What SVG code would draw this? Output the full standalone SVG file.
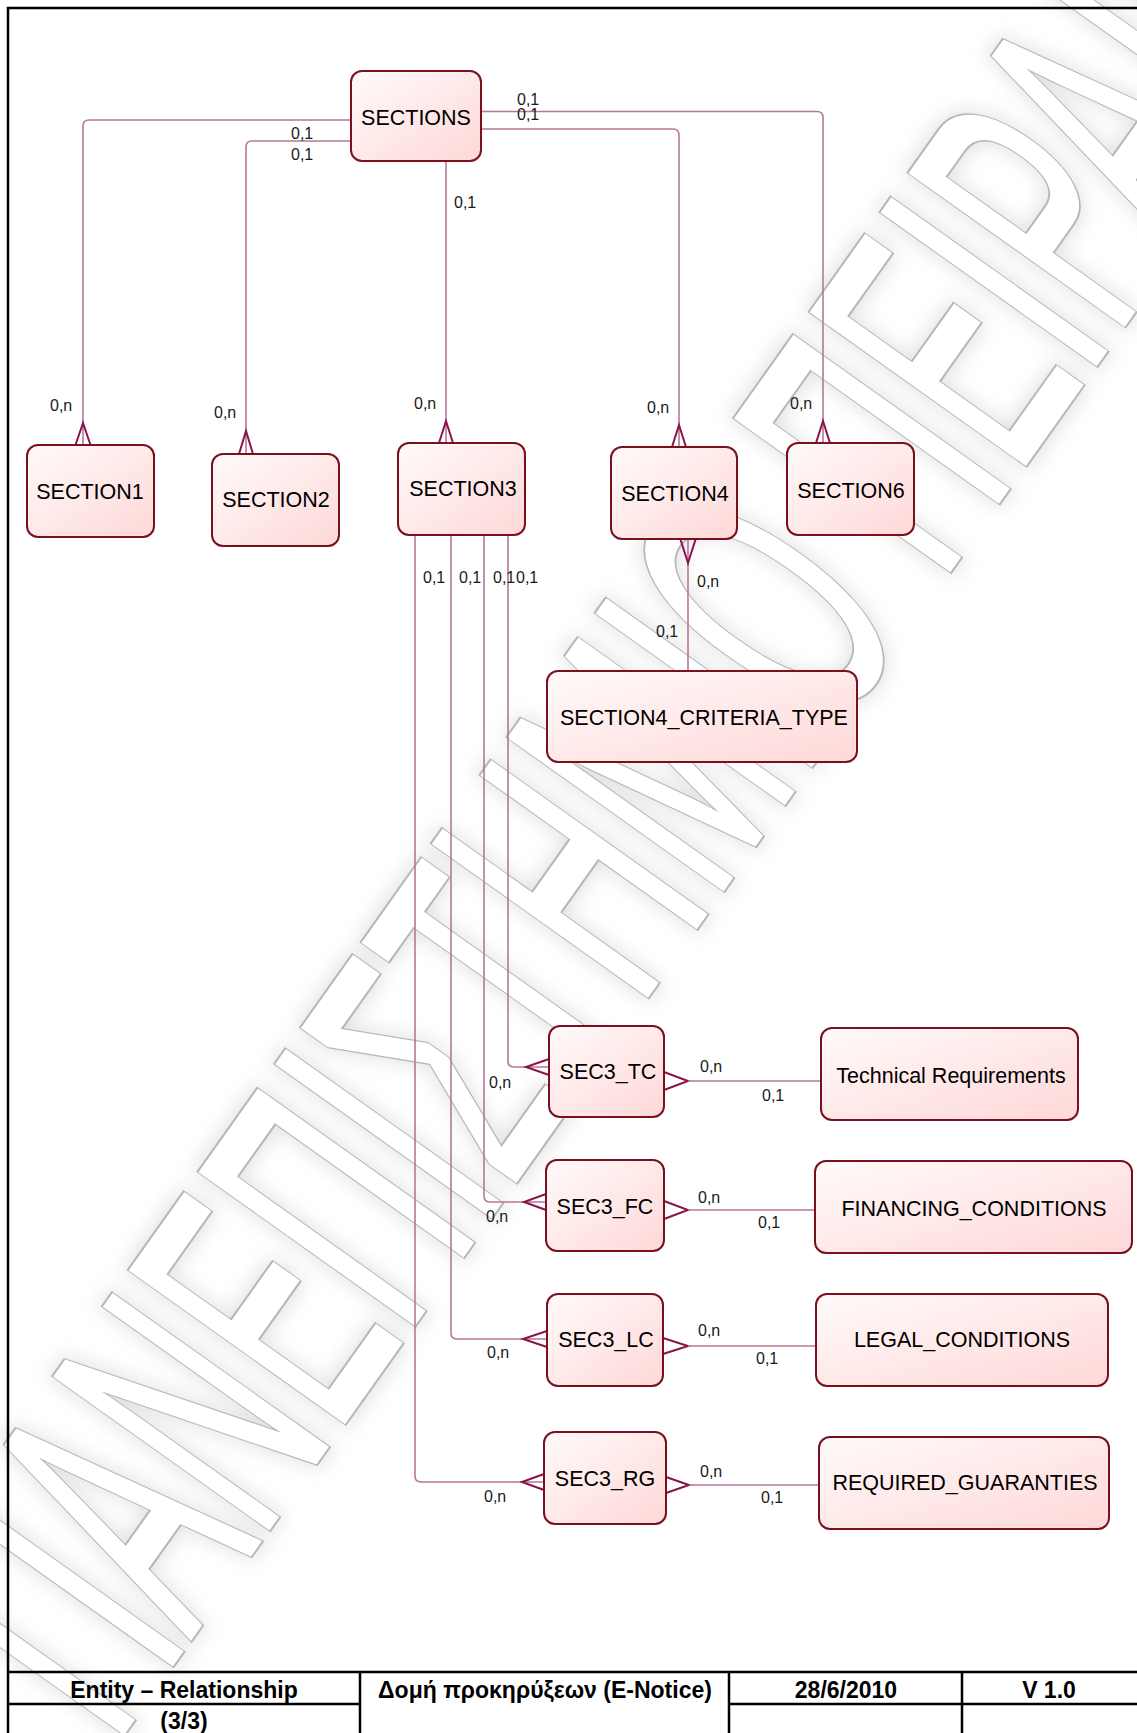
<svg xmlns="http://www.w3.org/2000/svg" width="1137" height="1733" viewBox="0 0 1137 1733">
<style>
.node rect{fill:url(#g);stroke:#7a0f1e;stroke-width:2}
.node text{font-family:"Liberation Sans",Arial,sans-serif;font-size:21.5px;fill:#000;text-anchor:middle}
.ln{fill:none;stroke:#b8769c;stroke-width:1.6}
.cf{fill:none;stroke:#8a1448;stroke-width:2}
.lb{font-family:"Liberation Sans",Arial,sans-serif;font-size:16px;fill:#1a1a1a}
.ft{font-family:"Liberation Sans",Arial,sans-serif;font-size:23px;font-weight:bold;fill:#000;text-anchor:middle}
.fr{stroke:#000;stroke-width:2.5;fill:none}
.wm{font-family:"Liberation Sans",Arial,sans-serif;font-size:380px;text-anchor:middle}
</style>
<defs>
<linearGradient id="g" x1="0" y1="0" x2="1" y2="1">
<stop offset="0" stop-color="#fffafa"/>
<stop offset="1" stop-color="#ffd8d8"/>
</linearGradient>
<filter id="blur" x="-10%" y="-10%" width="120%" height="120%"><feGaussianBlur stdDeviation="10"/></filter>
</defs>
<rect width="1137" height="1733" fill="#fff"/>
<g id="watermark" transform="translate(655,748) rotate(-54.6)">
<text class="wm" x="0" y="137" textLength="2252" lengthAdjust="spacingAndGlyphs" fill="#e2e2e2" stroke="#e2e2e2" stroke-width="14" filter="url(#blur)">ΠΑΝΕΠΙΣΤΗΜΙΟ ΠΕΙΡΑΙΩΣ</text>
<text class="wm" x="0" y="137" textLength="2252" lengthAdjust="spacingAndGlyphs" fill="#fff" stroke="#b6b6b6" stroke-width="8">ΠΑΝΕΠΙΣΤΗΜΙΟ ΠΕΙΡΑΙΩΣ</text>
<text class="wm" x="0" y="137" textLength="2252" lengthAdjust="spacingAndGlyphs" fill="#fff" stroke="#fff" stroke-width="4">ΠΑΝΕΠΙΣΤΗΜΙΟ ΠΕΙΡΑΙΩΣ</text>
</g>
<g id="frame">
<path class="fr" d="M1137,8 H8 V1733"/>
<path class="fr" d="M8,1672 H1137 M8,1704 H360 M729,1704 H1137 M360,1672 V1733 M729,1672 V1733 M962,1672 V1733"/>
<text class="ft" x="184" y="1698">Entity – Relationship</text>
<text class="ft" x="184" y="1729">(3/3)</text>
<text class="ft" x="545" y="1698">Δομή προκηρύξεων (E-Notice)</text>
<text class="ft" x="846" y="1698">28/6/2010</text>
<text class="ft" x="1049" y="1698">V 1.0</text>
</g>
<g id="connectors">
<path class="ln" d="M351,120 H89 Q83,120 83,126 V445"/>
<path class="cf" d="M75.5,445 L83,423 L90.5,445"/>
<path class="ln" d="M351,141 H252 Q246,141 246,147 V454"/>
<path class="cf" d="M239,454 L246,431 L253,454"/>
<path class="ln" d="M446,161 V443"/>
<path class="cf" d="M439,443 L446,421 L453,443"/>
<path class="ln" d="M481,129 H673 Q679,129 679,135 V447"/>
<path class="cf" d="M672,447 L679,425 L686,447"/>
<path class="ln" d="M481,111.5 H817 Q823,111.5 823,117.5 V443"/>
<path class="cf" d="M816,443 L823,421 L830,443"/>
<path class="ln" d="M688,538 V671"/>
<path class="cf" d="M680,538 L688,563 L696,538"/>
<path class="ln" d="M508,535 V1061 Q508,1067 514,1067 H549"/>
<path class="cf" d="M549,1059 L526,1067 L549,1075"/>
<path class="cf" d="M664,1072 L688,1081 L664,1090"/>
<path class="ln" d="M688,1081 H821"/>
<path class="ln" d="M484,535 V1196 Q484,1202 490,1202 H546"/>
<path class="cf" d="M546,1194 L524,1202 L546,1210"/>
<path class="cf" d="M664,1201 L688,1210 L664,1219"/>
<path class="ln" d="M688,1210 H815"/>
<path class="ln" d="M451,535 V1333 Q451,1339 457,1339 H547"/>
<path class="cf" d="M547,1331 L523,1339 L547,1347"/>
<path class="cf" d="M663,1338 L688,1346 L663,1354"/>
<path class="ln" d="M688,1346 H816"/>
<path class="ln" d="M415,535 V1476 Q415,1482 421,1482 H544"/>
<path class="cf" d="M544,1474 L522,1482 L544,1490"/>
<path class="cf" d="M666,1477 L689,1485 L666,1493"/>
<path class="ln" d="M689,1485 H819"/>
<g id="labels">
<text class="lb" x="50" y="411">0,n</text>
<text class="lb" x="291" y="139">0,1</text>
<text class="lb" x="291" y="160">0,1</text>
<text class="lb" x="214" y="418">0,n</text>
<text class="lb" x="454" y="208">0,1</text>
<text class="lb" x="414" y="409">0,n</text>
<text class="lb" x="517" y="105">0,1</text>
<text class="lb" x="517" y="120">0,1</text>
<text class="lb" x="647" y="413">0,n</text>
<text class="lb" x="790" y="409">0,n</text>
<text class="lb" x="423" y="583">0,1</text>
<text class="lb" x="459" y="583">0,1</text>
<text class="lb" x="493" y="583">0,1</text>
<text class="lb" x="516" y="583">0,1</text>
<text class="lb" x="697" y="587">0,n</text>
<text class="lb" x="656" y="637">0,1</text>
<text class="lb" x="489" y="1088">0,n</text>
<text class="lb" x="486" y="1222">0,n</text>
<text class="lb" x="487" y="1358">0,n</text>
<text class="lb" x="484" y="1502">0,n</text>
<text class="lb" x="700" y="1072">0,n</text>
<text class="lb" x="698" y="1203">0,n</text>
<text class="lb" x="698" y="1336">0,n</text>
<text class="lb" x="700" y="1477">0,n</text>
<text class="lb" x="762" y="1101">0,1</text>
<text class="lb" x="758" y="1228">0,1</text>
<text class="lb" x="756" y="1364">0,1</text>
<text class="lb" x="761" y="1503">0,1</text>
</g>
</g>
<g id="n-sections" class="node"><rect x="351" y="71" width="130" height="90" rx="11"/><text x="416" y="124.5">SECTIONS</text></g>
<g id="n-section1" class="node"><rect x="27" y="445" width="127" height="92" rx="11"/><text x="90" y="498.5">SECTION1</text></g>
<g id="n-section2" class="node"><rect x="212" y="454" width="127" height="92" rx="11"/><text x="276" y="506.5">SECTION2</text></g>
<g id="n-section3" class="node"><rect x="398" y="443" width="127" height="92" rx="11"/><text x="463" y="495.5">SECTION3</text></g>
<g id="n-section4" class="node"><rect x="611" y="447" width="126" height="92" rx="11"/><text x="675" y="500.5">SECTION4</text></g>
<g id="n-section6" class="node"><rect x="787" y="443" width="127" height="92" rx="11"/><text x="851" y="497.5">SECTION6</text></g>
<g id="n-criteria" class="node"><rect x="547" y="671" width="310" height="91" rx="11"/><text x="704" y="724.5">SECTION4_CRITERIA_TYPE</text></g>
<g id="n-sec3tc" class="node"><rect x="549" y="1026" width="115" height="91" rx="11"/><text x="608" y="1078.5">SEC3_TC</text></g>
<g id="n-techreq" class="node"><rect x="821" y="1028" width="257" height="92" rx="11"/><text x="951" y="1082.5">Technical Requirements</text></g>
<g id="n-sec3fc" class="node"><rect x="546" y="1160" width="118" height="91" rx="11"/><text x="605" y="1213.5">SEC3_FC</text></g>
<g id="n-financing" class="node"><rect x="815" y="1161" width="317" height="92" rx="11"/><text x="974" y="1215.5">FINANCING_CONDITIONS</text></g>
<g id="n-sec3lc" class="node"><rect x="547" y="1294" width="116" height="92" rx="11"/><text x="606" y="1346.5">SEC3_LC</text></g>
<g id="n-legal" class="node"><rect x="816" y="1294" width="292" height="92" rx="11"/><text x="962" y="1346.5">LEGAL_CONDITIONS</text></g>
<g id="n-sec3rg" class="node"><rect x="544" y="1432" width="122" height="92" rx="11"/><text x="605" y="1485.5">SEC3_RG</text></g>
<g id="n-required" class="node"><rect x="819" y="1437" width="290" height="92" rx="11"/><text x="965" y="1489.5">REQUIRED_GUARANTIES</text></g>
</svg>
